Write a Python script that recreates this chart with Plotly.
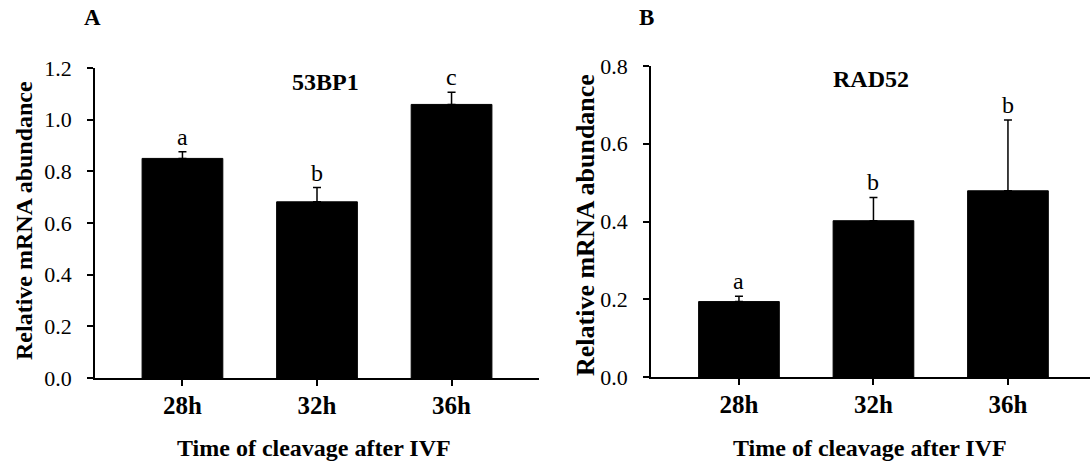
import plotly.graph_objects as go

categories = ["28h", "32h", "36h"]
values_53bp1 = [0.850, 0.682, 1.059]
err_53bp1 = [0.026, 0.055, 0.047]
letters_53bp1 = ["a", "b", "c"]
values_rad52 = [0.194, 0.402, 0.479]
err_rad52 = [0.014, 0.060, 0.182]
letters_rad52 = ["a", "b", "b"]

FONT = "Liberation Serif"
W, H = 1090, 465

fig = go.Figure()

def add_bars(vals, errs, xa, ya):
    fig.add_trace(go.Bar(
        x=categories, y=vals, width=0.6,
        marker=dict(color="black", line=dict(color="black", width=1)),
        error_y=dict(type="data", array=errs, arrayminus=[0] * len(errs), symmetric=False,
                     color="black", thickness=1.5, width=4),
        xaxis=xa, yaxis=ya, showlegend=False, hoverinfo="skip",
    ))

add_bars(values_53bp1, err_53bp1, "x", "y")
add_bars(values_rad52, err_rad52, "x2", "y2")

def tfont(size):
    return dict(family=FONT, size=size, color="black")

annotations = []
for cat, v, e, t in zip(categories, values_53bp1, err_53bp1, letters_53bp1):
    annotations.append(dict(x=cat, y=v + e, xref="x", yref="y", text=t, showarrow=False,
                            xanchor="center", yanchor="bottom", yshift=0, font=tfont(24)))
for cat, v, e, t in zip(categories, values_rad52, err_rad52, letters_rad52):
    annotations.append(dict(x=cat, y=v + e, xref="x2", yref="y2", text=t, showarrow=False,
                            xanchor="center", yanchor="bottom", yshift=0, font=tfont(24)))

def paper_text(px, py, text, size, angle=0):
    return dict(x=px / W, y=1 - py / H, xref="paper", yref="paper", text=text,
                showarrow=False, xanchor="center", yanchor="middle", textangle=angle,
                font=tfont(size))

annotations += [
    paper_text(325, 82, "<b>53BP1</b>", 24),
    paper_text(871, 79, "<b>RAD52</b>", 24),
    paper_text(92, 18, "<b>A</b>", 23),
    paper_text(646, 18, "<b>B</b>", 23),
    paper_text(314, 448, "<b>Time of cleavage after IVF</b>", 24),
    paper_text(870, 448, "<b>Time of cleavage after IVF</b>", 24),
    paper_text(24, 221, "<b>Relative mRNA abundance</b>", 24, -90),
    paper_text(585, 225, "<b>Relative mRNA abundance</b>", 26, -90),
]

axis_common = dict(showline=True, linecolor="black", linewidth=1.5, ticks="outside",
                   ticklen=6, tickwidth=1.5, tickcolor="black", showgrid=False, zeroline=False,
                   mirror=False, automargin=False)

fig.update_layout(
    template="none",
    width=W, height=H,
    margin=dict(l=0, r=0, t=0, b=0, pad=0),
    paper_bgcolor="white", plot_bgcolor="white",
    font=dict(family=FONT, color="black"),
    annotations=annotations,
    showlegend=False,
    xaxis=dict(domain=[95 / W, 539 / W], range=[-0.65, 2.65], anchor="y",
               tickfont=tfont(25), tickprefix="<b>", ticksuffix="</b>",
               ticklabelstandoff=-2, **axis_common),
    yaxis=dict(domain=[1 - 378 / H, 1 - 68 / H], range=[0, 1.2], anchor="x",
               tickvals=[0, 0.2, 0.4, 0.6, 0.8, 1.0, 1.2], tickformat=".1f",
               tickfont=tfont(22), ticklabelstandoff=11, **axis_common),
    xaxis2=dict(domain=[651 / W, 1.0], range=[-0.654, 2.61], anchor="y2",
                tickfont=tfont(25), tickprefix="<b>", ticksuffix="</b>",
                ticklabelstandoff=-2, **axis_common),
    yaxis2=dict(domain=[1 - 377 / H, 1 - 66 / H], range=[0, 0.8], anchor="x2",
                tickvals=[0, 0.2, 0.4, 0.6, 0.8], tickformat=".1f",
                tickfont=tfont(22), ticklabelstandoff=11, **axis_common),
    shapes=[
        dict(type="line", xref="paper", yref="paper", x0=89 / W, x1=95 / W,
             y0=1 - 378 / H, y1=1 - 378 / H, line=dict(color="black", width=1.5)),
        dict(type="line", xref="paper", yref="paper", x0=645 / W, x1=651 / W,
             y0=1 - 377 / H, y1=1 - 377 / H, line=dict(color="black", width=1.5)),
    ],
)

fig.write_html("out.html", config={"displayModeBar": False},
               post_script="document.body.style.margin='0';")
